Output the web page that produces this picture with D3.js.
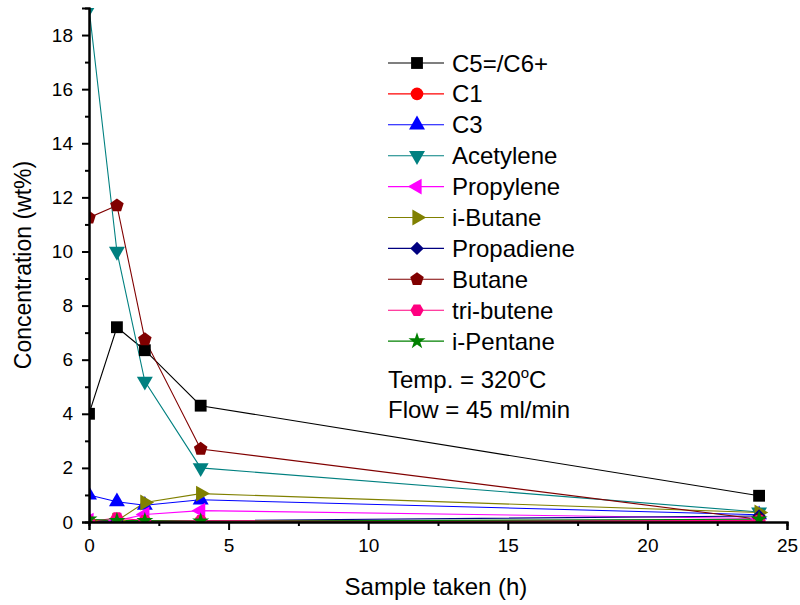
<!DOCTYPE html>
<html>
<head>
<meta charset="utf-8">
<script src="https://cdn.jsdelivr.net/npm/d3@7"></script>
<style>
  body { margin: 0; background: #fff; }
  text { font-family: Arial, "Liberation Sans", sans-serif; fill: #000; }
</style>
</head>
<body>
<div id="chart"></div>
<script>
// sample times (h)
var hours = [0, 1, 2, 4, 24];
// concentrations (wt%) per species
var c5c6 = [4.0, 7.2, 6.35, 4.3, 0.97];
var c1 = [0.01, 0.01, 0.01, 0.01, 0.01];
var c3 = [1.0, 0.75, 0.62, 0.82, 0.27];
var acetylene = [19.0, 10.0, 5.2, 2.0, 0.37];
var propylene = [0.05, 0.05, 0.28, 0.42, 0.13];
var iButane = [0.05, 0.05, 0.72, 1.05, 0.35];
var propadiene = [0.04, 0.03, 0.04, 0.05, 0.22];
var butane = [11.25, 11.7, 6.75, 2.7, 0.1];
var triButene = [0.02, 0.15, 0.05, 0.05, 0.05];
var iPentane = [0.1, 0.05, 0.05, 0.03, 0.1];

var names = ["C5=/C6+", "C1", "C3", "Acetylene", "Propylene", "i-Butane", "Propadiene", "Butane", "tri-butene", "i-Pentane"];
var values = [c5c6, c1, c3, acetylene, propylene, iButane, propadiene, butane, triButene, iPentane];
var colors = ["#000000", "#ff0000", "#0000ff", "#008080", "#ff00ff", "#808000", "#000080", "#800000", "#ff0080", "#008000"];

var xTicks = [0, 5, 10, 15, 20, 25];
var yTicks = [0, 2, 4, 6, 8, 10, 12, 14, 16, 18];

var margins = { top: 8, left: 89, right: 13, bottom: 83 };
var W = 800, H = 605;
var width = W - margins.left - margins.right;
var height = H - margins.top - margins.bottom;

// custom polygon symbols
function polygon(n, rot) {
  return {
    draw: function(ctx, size) {
      var r = Math.sqrt(size / (n * Math.sin(2 * Math.PI / n) / 2));
      for (var i = 0; i < n; i++) {
        var a = rot + i * 2 * Math.PI / n;
        var px = r * Math.sin(a), py = -r * Math.cos(a);
        if (i === 0) ctx.moveTo(px, py); else ctx.lineTo(px, py);
      }
      ctx.closePath();
    }
  };
}
// shape, area, rotation
var markers = [
  [d3.symbolSquare, 140, 0],
  [d3.symbolCircle, 125, 0],
  [d3.symbolTriangle, 110, 0],
  [d3.symbolTriangle, 110, 180],
  [d3.symbolTriangle, 110, -90],
  [d3.symbolTriangle, 110, 90],
  [d3.symbolSquare, 90, 45],
  [polygon(5, 0), 120, 0],
  [polygon(6, Math.PI / 6), 115, 0],
  [d3.symbolStar, 90, 0]
];

var svg = d3.select("#chart").append("svg")
  .attr("width", W)
  .attr("height", H);

var x = d3.scaleLinear().domain([0, 25]).range([0, width]);
var y = d3.scaleLinear().domain([0, 19]).range([height, 0]);

var plot = svg.append("g").attr("transform", "translate(" + margins.left + "," + margins.top + ")");

plot.append("clipPath").attr("id", "clip")
  .append("rect").attr("width", width).attr("height", height);

var area = plot.append("g").attr("clip-path", "url(#clip)");

var line = d3.line().x(function(d) { return x(d[0]); }).y(function(d) { return y(d[1]); });

values.forEach(function(v, i) {
  var pts = hours.map(function(h, j) { return [h, v[j]]; });
  area.append("path")
    .attr("d", line(pts))
    .attr("fill", "none")
    .attr("stroke", colors[i])
    .attr("stroke-width", 1.1);
});
values.forEach(function(v, i) {
  var m = markers[i];
  var sym = d3.symbol().type(m[0]).size(m[1]);
  area.selectAll(null)
    .data(hours.map(function(h, j) { return [h, v[j]]; }))
    .enter().append("path")
    .attr("d", sym)
    .attr("fill", colors[i])
    .attr("transform", function(d) {
      return "translate(" + x(d[0]) + "," + y(d[1]) + ") rotate(" + m[2] + ")";
    });
});

// axes
var xAxis = d3.axisBottom(x).tickValues(xTicks).tickSize(8).tickPadding(9).tickFormat(d3.format("d"));
var xMinor = d3.axisBottom(x).tickValues([2.5, 7.5, 12.5, 17.5, 22.5]).tickSize(4).tickFormat("");
var yAxis = d3.axisLeft(y).tickValues(yTicks).tickSize(7).tickPadding(9).tickFormat(d3.format("d"));
var yMinor = d3.axisLeft(y).tickValues([1, 3, 5, 7, 9, 11, 13, 15, 17]).tickSize(4).tickFormat("");

function style(g) {
  g.selectAll("path.domain").attr("stroke", "#000").attr("stroke-width", 2);
  g.selectAll(".tick line").attr("stroke", "#000").attr("stroke-width", 2);
  g.selectAll(".tick text").style("font-size", "19px").attr("fill", "#000");
  g.attr("font-family", null);
}

plot.append("g").attr("transform", "translate(0," + height + ")").call(xMinor).call(style);
plot.append("g").attr("transform", "translate(0," + height + ")").call(xAxis).call(style);
plot.append("g").call(yMinor).call(style);
plot.append("g").call(yAxis).call(style);

// axis titles
svg.append("text")
  .attr("x", margins.left + width / 2 - 2)
  .attr("y", 595)
  .attr("text-anchor", "middle")
  .style("font-size", "24px")
  .text("Sample taken (h)");
svg.append("text")
  .attr("transform", "translate(31," + (margins.top + height / 2) + ") rotate(-90)")
  .attr("text-anchor", "middle")
  .style("font-size", "23px")
  .text("Concentration (wt%)");

// legend
var leg = svg.append("g").attr("transform", "translate(388,63)");
names.forEach(function(n, i) {
  var row = leg.append("g").attr("transform", "translate(0," + (i * 30.9) + ")");
  row.append("line").attr("x1", 0).attr("x2", 56).attr("y1", 0).attr("y2", 0)
    .attr("stroke", colors[i]).attr("stroke-width", 1.1);
  var m = markers[i];
  row.append("path")
    .attr("d", d3.symbol().type(m[0]).size(m[1])())
    .attr("fill", colors[i])
    .attr("transform", "translate(29,0) rotate(" + m[2] + ")");
  row.append("text").attr("x", 64).attr("y", 8.5).style("font-size", "24px").text(n);
});
var t1 = leg.append("text").attr("x", 0).attr("y", 10 * 30.9 + 16).style("font-size", "24px");
t1.append("tspan").text("Temp. = 320");
t1.append("tspan").attr("dy", -10).style("font-size", "15px").text("o");
t1.append("tspan").attr("dy", 10).text("C");
leg.append("text").attr("x", 0).attr("y", 11 * 30.9 + 15).style("font-size", "24px").text("Flow = 45 ml/min");
</script>
</body>
</html>
